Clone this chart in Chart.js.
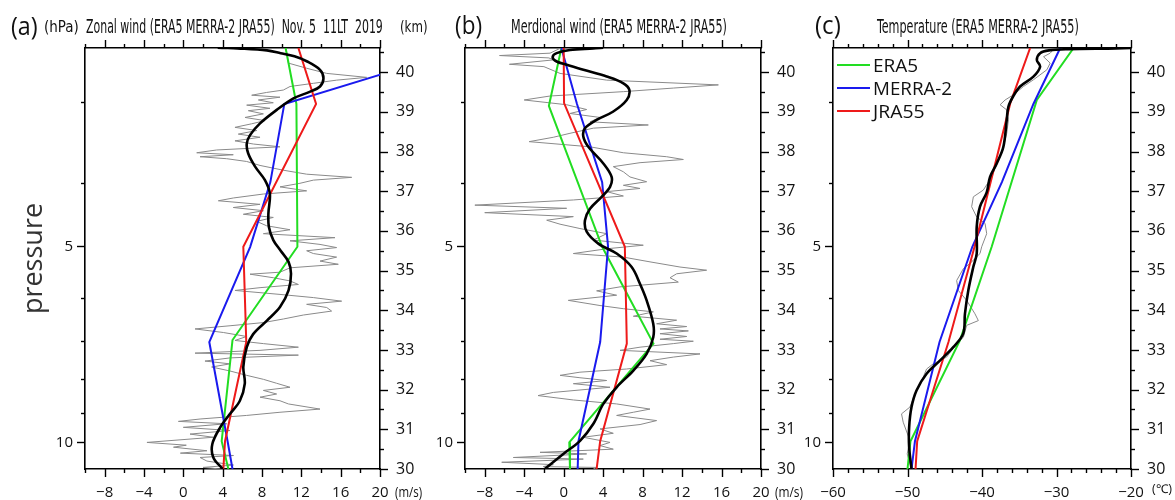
<!DOCTYPE html>
<html>
<head>
<meta charset="utf-8">
<script src="https://cdn.jsdelivr.net/npm/chart.js@4.4.1/dist/chart.umd.min.js"></script>
<style>
  body { margin: 0; background: #fff; width: 1175px; height: 500px; position: relative; overflow: hidden; }
  canvas { position: absolute; top: 0; left: 0; }
  .t { position: absolute; white-space: nowrap; transform-origin: 0 50%; color: #111; line-height: 1;
       font-family: "Liberation Sans Narrow", "DejaVu Sans Condensed", sans-serif; }
  .big { font-family: "Open Sans", sans-serif; }
  .leg { position: absolute; height: 2px; width: 33px; left: 837px; }
</style>
</head>
<body>
<canvas id="chartA" width="1175" height="500"></canvas>
<canvas id="chartB" width="1175" height="500"></canvas>
<canvas id="chartC" width="1175" height="500"></canvas>

<div class="t big" style="left:11px;top:25px;font-size:25px" data-w="27">(a)</div>
<div class="t" style="left:44px;top:27px;font-size:15px" data-w="35">(hPa)</div>
<div class="t" style="left:86px;top:26px;font-size:20px" data-w="297">Zonal wind (ERA5 MERRA-2 JRA55)&nbsp; Nov. 5&nbsp; 11LT&nbsp; 2019</div>
<div class="t" style="left:400px;top:27px;font-size:15px" data-w="28">(km)</div>
<div class="t big" style="left:455px;top:24px;font-size:25px" data-w="27">(b)</div>
<div class="t" style="left:511px;top:26px;font-size:20px" data-w="216">Merdional wind (ERA5 MERRA-2 JRA55)</div>
<div class="t big" style="left:815px;top:24px;font-size:25px" data-w="26">(c)</div>
<div class="t" style="left:877px;top:26px;font-size:20px" data-w="202">Temperature (ERA5 MERRA-2 JRA55)</div>
<div class="t big" style="left:395px;top:492px;font-size:14px" data-w="27">(m/s)</div>
<div class="t big" style="left:775px;top:492px;font-size:14px" data-w="28">(m/s)</div>
<div class="t big" style="left:1152px;top:489px;font-size:12px" data-w="20">(℃)</div>

<div class="leg" style="top:64px;background:#22dd22"></div>
<div class="leg" style="top:87px;background:#1a1aee"></div>
<div class="leg" style="top:110px;background:#ee1a1a"></div>
<div class="t big" style="left:873px;top:65px;font-size:19px" data-w="45">ERA5</div>
<div class="t big" style="left:873px;top:88px;font-size:19px" data-w="79">MERRA-2</div>
<div class="t big" style="left:873px;top:111px;font-size:19px" data-w="52">JRA55</div>

<script>
// ---------------------------------------------------------------------------
// DATA  (each point is [height km, value])
// ---------------------------------------------------------------------------

// tick labels
const windTicks = [-8, -4, 0, 4, 8, 12, 16, 20];
const tempTicks = [-60, -50, -40, -30, -20];
const kmTicks = [30, 31, 32, 33, 34, 35, 36, 37, 38, 39, 40];
const pressureTicks = [5, 10];
const pressureMinor = [3, 4, 6, 7, 8, 9];

// axis ranges: km on the right, pressure (hPa) on the left
const kmRange = [30, 40.61];
const hPaRange = [2.479, 10.99];

// (a) zonal wind, m/s
const zonalObs = [
  [40.6,10.44],[40.39,10.58],[40.23,10.68],[40.1,12.54],[39.97,14.58],[39.87,18.64],[39.8,15.6],
  [39.72,13.22],[39.64,10.85],[39.55,10.17],[39.49,8.47],[39.42,6.95],[39.37,9.83],[39.3,7.63],
  [39.23,9.15],[39.17,6.44],[39.09,8.81],[39.03,6.61],[38.95,8.14],[38.86,6.27],[38.78,8.3],
  [38.7,6.95],[38.61,5.25],[38.53,7.46],[38.44,5.59],[38.36,7.8],[38.27,5.25],[38.19,7.12],
  [38.12,9.83],[38.04,3.39],[37.97,1.36],[37.92,5.08],[37.87,1.7],[37.82,4.41],[37.75,6.44],
  [37.65,7.8],[37.53,10.17],[37.43,12.54],[37.35,17.12],[37.28,13.22],[37.2,11.86],[37.11,9.83],
  [37.01,12.54],[36.93,8.14],[36.83,5.08],[36.76,3.56],[36.67,7.8],[36.59,5.08],[36.51,8.14],
  [36.42,6.1],[36.34,9.15],[36.24,7.46],[36.13,8.47],[36.03,10.85],[35.93,8.14],[35.83,15.42],
  [35.75,10.85],[35.66,13.9],[35.58,15.59],[35.5,12.54],[35.43,13.22],[35.34,15.59],[35.24,13.9],
  [35.16,15.76],[35.07,10.85],[34.96,9.83],[34.91,6.78],[34.82,9.15],[34.74,10.85],[34.65,11.7],
  [34.57,7.8],[34.5,5.25],[34.4,9.83],[34.32,13.22],[34.23,16.1],[34.15,12.54],[34.07,14.58],
  [33.98,15.08],[33.88,12.2],[33.78,10.17],[33.69,8.14],[33.61,4.75],[33.53,1.19],[33.44,4.07],
  [33.34,6.44],[33.24,5.25],[33.16,8.14],[33.07,11.7],[32.99,7.8],[32.92,1.19],[32.87,11.7],
  [32.8,4.75],[32.72,2.2],[32.65,4.75],[32.57,2.88],[32.47,4.75],[32.36,6.44],[32.26,8.14],
  [32.16,9.49],[32.06,10.85],[31.98,8.14],[31.89,9.49],[31.81,7.8],[31.72,9.83],[31.64,10.68],
  [31.51,13.9],[31.43,9.83],[31.35,6.44],[31.26,1.7],[31.2,-0.5],[31.14,4.41],[31.05,0],
  [30.97,4.75],[30.88,0.68],[30.8,3.05],[30.67,-3.7],[30.6,0.3],[30.55,-1.0],[30.46,2.4],
  [30.4,-0.3],[30.34,5.1],[30.29,1.7],[30.2,2.4],[30.1,5.1],[30.04,2.0],[30,3.8]
];
const zonalSmooth = [
  [40.62,3.5],[40.6,5.5],[40.55,8.5],[40.48,9.9],[40.4,11.3],[40.27,12.6],[40.06,13.9],[39.85,14.25],
  [39.64,13.9],[39.51,12.9],[39.34,11.2],[39.05,9.5],[38.71,7.8],[38.42,6.8],[38.2,6.45],[37.95,6.6],
  [37.62,7.3],[37.28,8.3],[36.94,8.8],[36.44,8.65],[36.1,8.7],[35.77,9.15],[35.5,9.9],[35.22,10.7],
  [34.92,10.95],[34.5,10.7],[34.08,9.83],[33.74,8.5],[33.4,7.1],[33.07,6.45],[32.57,6.1],[32.15,6.25],
  [31.72,5.75],[31.39,4.75],[31.05,3.75],[30.63,2.95],[30.29,3.05],[30,4.0]
];
const zonalERA5 = [[40.61,10.4],[39.2,11.5],[35.6,11.6],[33.25,5.0],[30.7,3.9],[30,4.58]];
const zonalMERRA2 = [[39.95,20.2],[39.2,10.27],[37.23,8.85],[35.6,6.8],[33.2,2.64],[30.7,4.5],[30,5.0]];
const zonalJRA55 = [[40.61,11.7],[39.2,13.5],[35.6,6.1],[33.2,6.4],[30.7,4.24],[30,4.07]];

// (b) meridional wind, m/s
const meridObs = [
  [40.6,-0.37],[40.48,-1.38],[40.42,-6.5],[40.36,-1.5],[40.31,-1.05],[40.2,-5.5],[40.14,-2.0],
  [39.97,-0.37],[39.8,4.36],[39.68,15.68],[39.6,11.11],[39.51,6.05],[39.4,-1.38],[39.3,-4.0],
  [39.18,0.3],[39.06,2.33],[38.96,0.64],[38.86,3.68],[38.75,2.67],[38.67,8.58],[38.59,3.01],
  [38.46,0.64],[38.36,-1.05],[38.25,-3.5],[38.12,2.67],[37.97,6.05],[37.87,10.44],[37.8,12.13],
  [37.72,7.74],[37.62,5.03],[37.49,6.05],[37.36,6.72],[37.24,8.41],[37.15,6.05],[37.07,7.74],
  [36.99,4.36],[36.88,6.05],[36.78,0.98],[36.65,-9.0],[36.57,0.3],[36.46,-8.0],[36.36,0.98],
  [36.27,-1.72],[36.17,-0.37],[36.06,1.65],[35.93,4.36],[35.77,3.01],[35.64,8.07],[35.55,4.36],
  [35.43,0.98],[35.34,6.05],[35.22,8.75],[35.09,11.79],[35.01,14.49],[34.92,11.45],[34.82,10.78],
  [34.71,11.62],[34.59,5.71],[34.49,3.34],[34.38,5.37],[34.25,0.47],[34.12,3.68],[34.04,6.05],
  [33.96,9.09],[33.85,7.06],[33.75,11.45],[33.66,9.42],[33.59,12.47],[33.53,9.76],[33.48,12.64],
  [33.41,9.76],[33.34,12.47],[33.27,9.76],[33.22,13.14],[33.16,11.11],[33.07,7.74],[32.99,5.71],
  [32.9,13.82],[32.82,11.11],[32.73,8.75],[32.63,10.44],[32.52,6.38],[32.44,1.65],[32.36,-0.37],
  [32.3,1.65],[32.23,4.36],[32.15,0.98],[32.06,4.7],[31.93,-1.05],[31.85,-2.6],[31.74,0.98],
  [31.64,5.37],[31.51,8.75],[31.43,7.06],[31.35,5.37],[31.22,9.42],[31.12,7.74],[31.01,3.68],
  [30.9,5.03],[30.8,1.99],[30.67,4.7],[30.59,3.68],[30.5,5.03],[30.42,-2.4],[30.38,2.33],
  [30.29,-5.1],[30.25,1.99],[30.17,-6.28],[30.11,-1.05],[30.06,-2.06],[30.04,3.34],[30,3.0]
];
const meridSmooth = [
  [40.62,4.0],[40.6,3.0],[40.56,0.64],[40.48,-0.71],[40.38,-1.12],[40.27,-0.71],[40.19,0.3],
  [40.06,2.0],[39.89,4.36],[39.72,6.05],[39.55,6.66],[39.3,6.39],[39.01,5.03],[38.8,3.34],
  [38.59,2.16],[38.38,1.99],[38.12,2.5],[37.7,4.02],[37.36,4.86],[37.11,4.7],[36.86,3.85],
  [36.56,2.67],[36.27,2.16],[35.98,2.33],[35.68,3.51],[35.43,5.37],[35.09,6.89],[34.67,7.73],
  [34.25,8.41],[33.66,9.08],[33.32,9.08],[32.9,8.41],[32.48,7.06],[32.06,5.37],[31.64,4.02],
  [31.14,3.01],[30.71,1.66],[30.38,-0.04],[30.04,-1.73],[30,-1.9]
];
const meridERA5 = [[40.61,-0.23],[39.15,-1.5],[35.6,3.9],[33.16,9.1],[30.67,0.57],[30,0.64]];
const meridMERRA2 = [[40.61,-0.23],[39.2,1.35],[37.23,3.9],[35.6,4.5],[33.2,3.7],[30.7,1.5],[30,1.42]];
const meridJRA55 = [[40.61,0],[39.22,0.04],[35.6,6.2],[33.16,6.4],[30.7,3.7],[30,3.34]];

// (c) temperature, degC
const tempObs = [
  [40.62,-20],[40.6,-29],[40.55,-30.5],[40.48,-30.85],[40.39,-31.74],[40.23,-30.85],[40.06,-31.3],
  [39.81,-33.09],[39.64,-34.43],[39.43,-35.78],[39.3,-36.9],[39.18,-37.57],[39.05,-36.68],
  [38.8,-36.45],[38.46,-36.68],[38.12,-37.13],[37.79,-37.8],[37.36,-38.7],[37.03,-39.82],
  [36.86,-41.16],[36.61,-41.39],[36.35,-40.71],[36.19,-39.59],[35.93,-39.37],[35.6,-40.04],
  [35.43,-40.27],[35.18,-41.61],[35.05,-42.5],[34.75,-43.4],[34.5,-43.18],[34.25,-42.06],
  [33.91,-40.94],[33.74,-40.49],[33.62,-42.06],[33.32,-42.5],[33.16,-43.4],[32.82,-44.75],
  [32.65,-46.55],[32.52,-47.44],[32.31,-47.9],[31.98,-48.79],[31.56,-49.68],[31.39,-50.8],
  [31.18,-50.58],[30.72,-49.68],[30.38,-50.04],[30,-49.46]
];
const tempSmooth = [
  [40.62,-18],[40.6,-22],[40.58,-28.5],[40.55,-31.0],[40.48,-32.2],[40.31,-32.64],[40.14,-32.2],
  [39.89,-33.1],[39.64,-34.89],[39.4,-35.79],[39.13,-36.46],[38.8,-36.68],[38.12,-37.13],[37.7,-38.02],
  [37.36,-38.92],[36.97,-39.37],[36.61,-40.27],[36.1,-40.71],[35.43,-40.71],[35.09,-41.17],
  [34.5,-41.84],[33.91,-42.29],[33.41,-42.52],[33.07,-43.86],[32.73,-45.65],[32.4,-47.44],
  [31.98,-48.79],[31.56,-49.46],[31.05,-49.78],[30.55,-49.78],[30,-49.46]
];
const tempERA5 = [[40.61,-27.7],[39.3,-32.64],[35.6,-38.7],[33.24,-42.96],[30.7,-49.6],[30,-50.0]];
const tempMERRA2 = [[40.61,-29.5],[39.2,-33.1],[37.23,-37.33],[35.6,-41.3],[33.2,-45.7],[30.7,-49.0],[30,-49.46]];
const tempJRA55 = [[40.61,-33.54],[39.22,-36.2],[35.6,-41.0],[33.2,-44.5],[30.7,-48.7],[30,-48.92]];

// ---------------------------------------------------------------------------
// HELPERS
// ---------------------------------------------------------------------------

const GREEN = '#22dd22', BLUE = '#1a1aee', RED = '#ee1a1a', GRAY = '#8a8a8a';
const tickFont = { family: 'Open Sans', size: 15 };

function pts(list) {
  return list.map(p => ({ x: p[1], y: p[0] }));
}

function line(data, color, width, tension) {
  return { data: pts(data), borderColor: color, borderWidth: width, tension: tension || 0,
           showLine: true, pointRadius: 0, fill: false };
}

function range(a, b, step) {
  let out = [];
  for (let v = a; v <= b + 1e-9; v += step) out.push(Math.round(v * 100) / 100);
  return out;
}

function minus(v) {
  return v < 0 ? '\u2212' + Math.abs(v) : String(v);
}

// draws the outward tick marks (long at labelled values, short elsewhere)
function tickMarks(spec) {
  return {
    id: 'tickMarks',
    afterDraw(chart) {
      const ctx = chart.ctx, area = chart.chartArea;
      ctx.save();
      ctx.strokeStyle = '#000';
      ctx.lineWidth = 1.4;
      spec.forEach(s => {
        const sc = chart.scales[s.id];
        s.all.forEach(v => {
          const len = s.major.includes(v) ? 8 : 4;
          const p = Math.round(sc.getPixelForValue(v)) + 0.5;
          ctx.beginPath();
          if (s.side === 'bottom') { ctx.moveTo(p, area.bottom); ctx.lineTo(p, area.bottom + len); }
          if (s.side === 'top') { ctx.moveTo(p, area.top); ctx.lineTo(p, area.top - len); }
          if (s.side === 'left') { ctx.moveTo(area.left, p); ctx.lineTo(area.left - len, p); }
          if (s.side === 'right') { ctx.moveTo(area.right, p); ctx.lineTo(area.right + len, p); }
          ctx.stroke();
        });
      });
      ctx.restore();
    }
  };
}

// box = [left, right] of the plotting area in page pixels
function makePanel(id, datasets, box, xMin, xMax, xLabels, xStep, leftW, pressureTitle) {
  const rightW = 40;
  const border = { display: true, color: '#000', width: 1.6 };
  const noGrid = { display: false, drawTicks: false, tickLength: 0 };
  const fixW = w => s => { s.width = w; };
  const fixH = h => s => { s.height = h; };
  const setTicks = list => s => { s.ticks = list.map(v => ({ value: v })); };

  new Chart(document.getElementById(id), {
    type: 'scatter',
    data: { datasets: datasets },
    options: {
      responsive: false,
      animation: false,
      layout: { padding: { left: box[0] - leftW, right: 1175 - box[1] - rightW, top: 0, bottom: 0 } },
      plugins: { legend: { display: false }, tooltip: { enabled: false } },
      scales: {
        x: {
          type: 'linear', position: 'bottom', min: xMin, max: xMax,
          grid: noGrid, border: border,
          afterBuildTicks: setTicks(xLabels), afterFit: fixH(31),
          ticks: { font: tickFont, color: '#111', padding: 15, maxRotation: 0, autoSkip: false,
                   callback: v => minus(v) }
        },
        xTop: {
          type: 'linear', position: 'top', min: xMin, max: xMax,
          grid: noGrid, border: border, ticks: { display: false }, afterFit: fixH(48)
        },
        y: {
          type: 'linear', position: 'right', min: kmRange[0], max: kmRange[1],
          grid: noGrid, border: border,
          afterBuildTicks: setTicks(kmTicks), afterFit: fixW(rightW),
          ticks: { font: { family: 'Open Sans', size: 16 }, color: '#111', padding: 16, autoSkip: false }
        },
        yP: {
          type: 'logarithmic', position: 'left', reverse: true, min: hPaRange[0], max: hPaRange[1],
          grid: noGrid, border: border,
          afterBuildTicks: setTicks(pressureTicks), afterFit: fixW(leftW),
          ticks: { font: tickFont, color: '#111', padding: 12, autoSkip: false, callback: v => String(v) },
          title: { display: !!pressureTitle, text: 'pressure', color: '#333',
                   font: { family: 'Open Sans', size: 27 }, padding: { top: 18, bottom: 0 } }
        }
      }
    },
    plugins: [tickMarks([
      { id: 'x', side: 'bottom', all: range(xMin, xMax, xStep), major: xLabels },
      { id: 'xTop', side: 'top', all: range(xMin, xMax, xStep), major: xLabels },
      { id: 'y', side: 'right', all: range(30, 40.5, 0.5), major: kmTicks },
      { id: 'yP', side: 'left', all: pressureTicks.concat(pressureMinor), major: pressureTicks }
    ])]
  });
}

function panelSets(obs, smooth, era5, merra2, jra55) {
  return [
    line(smooth, '#000', 2.6, 0.35),
    line(jra55, RED, 2),
    line(merra2, BLUE, 2),
    line(era5, GREEN, 2),
    line(obs, GRAY, 1)
  ];
}

// ---------------------------------------------------------------------------
// INITIALIZE
// ---------------------------------------------------------------------------

makePanel('chartA', panelSets(zonalObs, zonalSmooth, zonalERA5, zonalMERRA2, zonalJRA55),
          [85, 380], -10, 20, windTicks, 2, 85, true);
makePanel('chartB', panelSets(meridObs, meridSmooth, meridERA5, meridMERRA2, meridJRA55),
          [465, 761], -10, 20, windTicks, 2, 45, false);
makePanel('chartC', panelSets(tempObs, tempSmooth, tempERA5, tempMERRA2, tempJRA55),
          [833, 1131], -60, -20, tempTicks, 2, 33, false);

// squeeze each text to the width it has in the picture
document.querySelectorAll('.t').forEach(el => {
  const w = el.offsetWidth;
  const target = Number(el.dataset.w);
  el.style.transform = 'translateY(-50%) scaleX(' + (target / w) + ')';
});
</script>
</body>
</html>
